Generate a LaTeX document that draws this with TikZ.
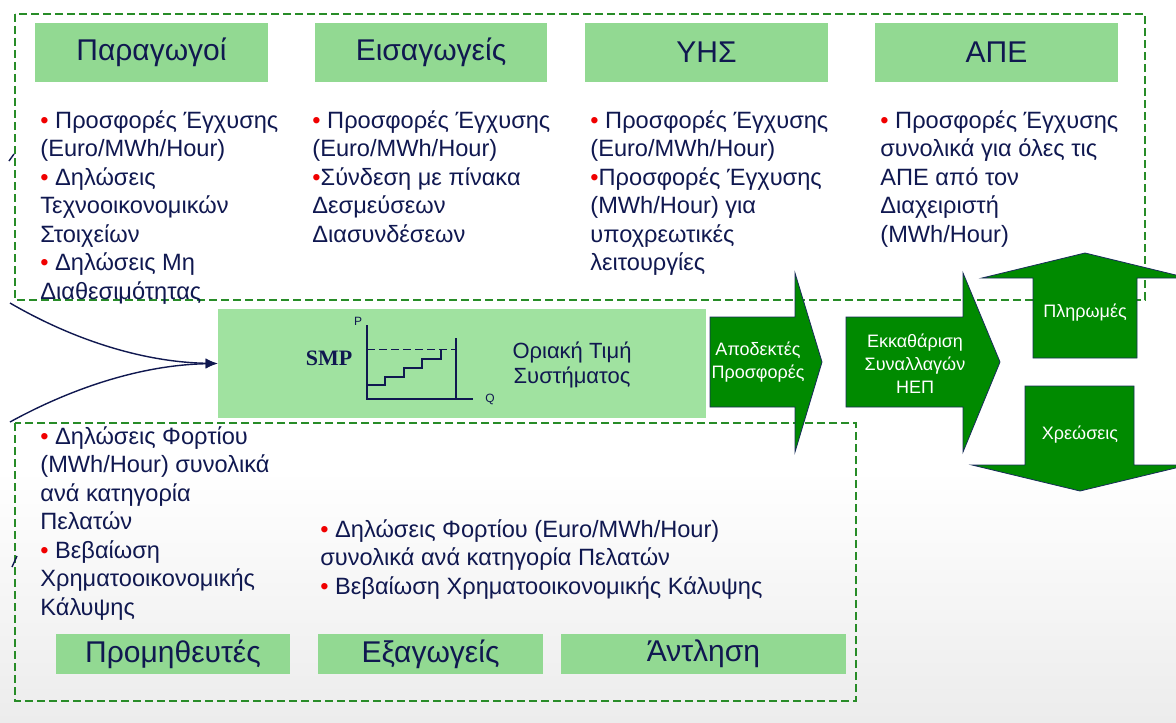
\documentclass[tikz,border=0pt]{standalone}
\usepackage{fontspec}
\setmainfont{Liberation Sans}
\newfontfamily\smpfont{Liberation Serif}
\usetikzlibrary{positioning,arrows.meta}

\definecolor{titlegreen}{RGB}{146,217,146}
\definecolor{smpgreen}{RGB}{160,226,160}
\definecolor{arrowgreen}{RGB}{0,138,0}
\definecolor{arrowedge}{RGB}{25,45,90}
\definecolor{textnavy}{RGB}{16,24,80}
\definecolor{dashgreen}{RGB}{40,140,40}
\definecolor{bulred}{RGB}{240,0,0}
\definecolor{bggray}{RGB}{236,236,236}

\newcommand{\bul}{\textcolor{bulred}{\textbullet}}

\tikzset{
  titlebox/.style={fill=titlegreen, text=textnavy, inner sep=0pt, font=\fontsize{15}{18}\selectfont},
  itemtext/.style={anchor=north west, align=left, inner sep=0pt, text=textnavy, font=\fontsize{11.8}{14.25}\selectfont},
  dashbox/.style={draw=dashgreen, dash pattern=on 4pt off 2pt, line width=0.6pt},
  bigarrow/.style={fill=arrowgreen, draw=arrowedge, line width=0.4pt, line join=miter},
  arrowtext/.style={text=white, align=center, inner sep=0pt, font=\fontsize{9}{11.5}\selectfont},
}

\begin{document}
\begin{tikzpicture}[x=0.5pt, y=-0.5pt]  %Inicio, 1 unidade = 1 pixel
    \useasboundingbox (0,0) rectangle (1176,722);
        %Fundo
        \fill[white] (0,0) rectangle (1176,722);
        \shade[top color=white, bottom color=bggray] (0,470) rectangle (1176,722);

        %Caixas tracejadas
        \draw[dashbox] (15,14) rectangle (1145,300); %Caixa de cima
        \draw[dashbox] (15,423) rectangle (856,701); %Caixa de baixo

        %Titulos de cima
        \node[titlebox, minimum width=116.5pt, minimum height=29.5pt] (prod) at (151.5,52.5) {Παραγωγοί};
        \node[titlebox, minimum width=116pt, minimum height=29.5pt] (imp) at (431,52.5) {Εισαγωγείς};
        \node[titlebox, minimum width=121.5pt, minimum height=29.5pt] (yhs) at (706.5,52.5) {ΥΗΣ};
        \node[titlebox, minimum width=121.5pt, minimum height=29.5pt] (ape) at (996.5,52.5) {ΑΠΕ};

        %Textos de cima (topo = linha de base - strut)
        \node[itemtext] (prodtxt) at (40,108) {\strut\bul\ Προσφορές Έγχυσης\\(Euro/MWh/Hour)\\\bul\ Δηλώσεις\\Τεχνοοικονομικών\\Στοιχείων\\\bul\ Δηλώσεις Μη\\Διαθεσιμότητας};
        \node[itemtext] (imptxt) at (312,108) {\strut\bul\ Προσφορές Έγχυσης\\(Euro/MWh/Hour)\\\bul Σύνδεση με πίνακα\\Δεσμεύσεων\\Διασυνδέσεων};
        \node[itemtext] (yhstxt) at (590,108) {\strut\bul\ Προσφορές Έγχυσης\\(Euro/MWh/Hour)\\\bul Προσφορές Έγχυσης\\(MWh/Hour) για\\υποχρεωτικές\\λειτουργίες};
        \node[itemtext] (apetxt) at (880,108) {\strut\bul\ Προσφορές Έγχυσης\\συνολικά για όλες τις\\ΑΠΕ από τον\\Διαχειριστή\\(MWh/Hour)};

        %Caixa SMP
        \node[fill=smpgreen, minimum width=244pt, minimum height=54.5pt, inner sep=0pt] (smp) at (462,363.5) {};
        \node[text=textnavy, font=\smpfont\bfseries\fontsize{11}{13}\selectfont] (smplbl) at (329,358) {SMP};
        \node[text=textnavy, align=center, font=\fontsize{11}{12.5}\selectfont] (smptxt) at (572,365) {Οριακή Τιμή\\Συστήματος};

        %Grafico degraus
        \coordinate (porig) at (367,399);
        \draw[textnavy, line width=0.6pt] (367,325) -- (porig) -- (473,399) coordinate (qend);
        \draw[textnavy, line width=0.6pt] (456,338) -- (456,399);
        \draw[textnavy, line width=0.5pt, dash pattern=on 4pt off 2pt] (367,349) -- (456,349);
        \draw[textnavy, line width=0.6pt] (366,385) -| (385,377) -| (404,368) -| (422,359) -| (441,349);
        \node[text=textnavy, font=\fontsize{6}{7}\selectfont, inner sep=0pt] (plbl) at (358,321) {P};
        \node[text=textnavy, font=\fontsize{6}{7}\selectfont, inner sep=0pt, right=6pt of qend] (qlbl) {Q};

        %Curvas
        \coordinate (ctop) at (10,303);
        \coordinate (cbot) at (10,422);
        \draw[textnavy, line width=0.7pt, -{Latex[length=6pt,width=5pt]}] (ctop) .. controls (70,338) and (140,362) .. (smp.west);
        \draw[textnavy, line width=0.7pt, -{Latex[length=6pt,width=5pt]}] (cbot) .. controls (70,389) and (140,365) .. (smp.west);
        \draw[textnavy, line width=0.7pt] (9,161) .. controls (11,157) .. (14,154); %resto de curva
        \draw[textnavy, line width=0.7pt] (12,567) .. controls (14,561) .. (17,556); %resto de curva

        %Setas grandes
        \draw[bigarrow] (710,317) -- (795,317) -- (795,273) -- (822,362) -- (795,452) -- (795,407) -- (710,407) -- cycle;
        \draw[bigarrow] (846,317) -- (963,317) -- (963,273) -- (1000,362) -- (963,452) -- (963,407) -- (846,407) -- cycle;
        \draw[bigarrow] (1033,358) -- (1033,278) -- (982,278) -- (1085,253) -- (1188,278) -- (1137,278) -- (1137,358) -- cycle; %Seta para cima
        \draw[bigarrow] (1025,386) -- (1025,465) -- (972,465) -- (1080,491) -- (1188,465) -- (1134,465) -- (1134,386) -- cycle; %Seta para baixo
        \node[arrowtext] (accept) at (758,362) {Αποδεκτές\\Προσφορές};
        \node[arrowtext] (settle) at (915,364) {Εκκαθάριση\\Συναλλαγών\\ΗΕΠ};
        \node[arrowtext] (pay) at (1085,313) {Πληρωμές};
        \node[arrowtext] (charge) at (1080,435) {Χρεώσεις};

        %Textos de baixo
        \node[itemtext] (supptxt) at (40,424) {\strut\bul\ Δηλώσεις Φορτίου\\(MWh/Hour) συνολικά\\ανά κατηγορία\\Πελατών\\\bul\ Βεβαίωση\\Χρηματοοικονομικής\\Κάλυψης};
        \node[itemtext] (exptxt) at (320,517) {\strut\bul\ Δηλώσεις Φορτίου (Euro/MWh/Hour)\\συνολικά ανά κατηγορία Πελατών\\\bul\ Βεβαίωση Χρηματοοικονομικής Κάλυψης};

        %Titulos de baixo
        \node[titlebox, minimum width=117pt, minimum height=20pt] (supp) at (173,654) {Προμηθευτές};
        \node[titlebox, minimum width=112.5pt, minimum height=20pt] (exp) at (430.5,654) {Εξαγωγείς};
        \node[titlebox, minimum width=142.5pt, minimum height=20pt] (pump) at (703.5,654) {Άντληση};
\end{tikzpicture}
\end{document}
